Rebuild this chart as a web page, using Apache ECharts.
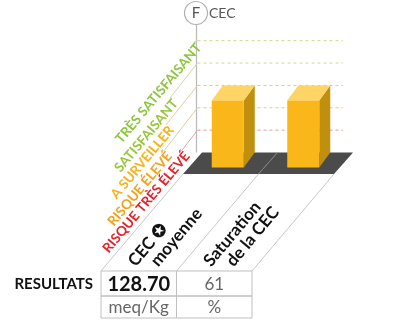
<!DOCTYPE html>
<html><head><meta charset="utf-8">
<script src="https://cdn.jsdelivr.net/npm/echarts@6/dist/echarts.min.js"></script>
<style>html,body{margin:0;padding:0;background:#fff}#c{width:410px;height:327px}</style>
</head><body><div id="c"></div>
<script>
// ---------- data ----------
const titleLetter = 'F';
const titleText = 'CEC';
const rowLabel = 'RESULTATS';
const categories = ['CEC ✪ moyenne', 'Saturation de la CEC'];
const categoryLines = [['CEC ✪', 'moyenne'], ['Saturation', 'de la CEC']];
const resultValues = ['128.70', '61'];
const resultUnits = ['meq/Kg', '%'];
const barLevels = [3, 3];
const levelNames = ['RISQUE TRÈS ÉLEVÉ', 'RISQUE ÉLEVÉ', 'A SURVEILLER', 'SATISFAISANT', 'TRÈS SATISFAISANT'];
const levelValues = [1, 2, 3, 4, 5];

// ---------- styles / layout ----------
const FONT = 'Lato, "Open Sans", sans-serif';
const levelColors = ['#e3232b', '#f4a21c', '#f7b21d', '#99c53c', '#8dc63f'];
const gridColors = ['#e79b9b', '#f1c877', '#f5c65c', '#c9dc8c', '#c9dc8c'];
const leaderColors = ['#eaa6a6', '#e2cca3', '#e2cca3', '#d2d7a8', '#d2d7a8'];
const labelOffsets = [[-15.8, 20.5], [-33.5, 43], [-31.5, 39.5], [-27.5, 35], [-4, 1.5]];
const ROT = 50 * Math.PI / 180;
const FLOOR_D = [-19, 21.5];
const GUIDE_D = [-82, 97];
const BAR_D = [-11, 15];
const BAR_BACK = [-17, 15];
const ROW_H = [25, 22];
const COL_LABEL_X = [37, 22.5];

function floorItem(params, api) {
  const i = api.value(0);
  const n = categories.length;
  const c = api.coord([i, 0]);
  const bw = api.size([1, 0])[0];
  const L = c[0] - bw / 2, R = c[0] + bw / 2, y0 = c[1];
  const fl = [L + FLOOR_D[0], y0 + FLOOR_D[1]];
  const fr = [R + FLOOR_D[0], y0 + FLOOR_D[1]];
  const tl = [fl[0] + GUIDE_D[0], fl[1] + GUIDE_D[1]];
  const tr = [fr[0] + GUIDE_D[0], fr[1] + GUIDE_D[1]];
  const cw = tr[0] - tl[0];
  const ch = [];
  ch.push({type: 'polygon', shape: {points: [[L, y0], [R, y0], fr, fl]}, style: {fill: '#4b4b4b'}});
  if (i > 0) ch.push({type: 'line', shape: {x1: L, y1: y0, x2: fl[0], y2: fl[1]}, style: {stroke: '#828282', lineWidth: 1}});
  ch.push({type: 'line', shape: {x1: fl[0], y1: fl[1], x2: tl[0], y2: tl[1]}, style: {stroke: '#c9c9c9', lineWidth: 1}});
  if (i === n - 1) ch.push({type: 'line', shape: {x1: fr[0], y1: fr[1], x2: tr[0], y2: tr[1]}, style: {stroke: '#c9c9c9', lineWidth: 1}});
  if (i === 0) {
    const top = api.coord([0, 6]);
    ch.push({type: 'line', shape: {x1: L - 5.5, y1: top[1], x2: L - 5.5, y2: y0}, style: {stroke: '#b8b8b8', lineWidth: 1.2}});
    ch.push({type: 'text', x: tl[0] - 8, y: tl[1] + ROW_H[0] / 2 + 1, style: {text: rowLabel, font: 'bold 15px ' + FONT, fill: '#111', align: 'right', verticalAlign: 'middle'}});
  }
  ch.push({type: 'rect', shape: {x: tl[0], y: tl[1], width: cw, height: ROW_H[0]}, style: {fill: 'none', stroke: '#c0c0c0', lineWidth: 1}});
  ch.push({type: 'rect', shape: {x: tl[0], y: tl[1] + ROW_H[0], width: cw, height: ROW_H[1]}, style: {fill: 'none', stroke: '#c0c0c0', lineWidth: 1}});
  ch.push({type: 'text', x: tl[0] + cw / 2, y: tl[1] + ROW_H[0] / 2 + 1, style: {text: resultValues[i], font: (i === 0 ? 'bold 20px ' : '17px ') + FONT, fill: i === 0 ? '#111' : '#666', align: 'center', verticalAlign: 'middle'}});
  ch.push({type: 'text', x: tl[0] + cw / 2, y: tl[1] + ROW_H[0] + ROW_H[1] / 2 + 1, style: {text: resultUnits[i], font: '17px ' + FONT, fill: '#666', align: 'center', verticalAlign: 'middle'}});
  categoryLines[i].forEach(function (t, k) {
    ch.push({type: 'text', x: tl[0] + COL_LABEL_X[0] + COL_LABEL_X[1] * k, y: tl[1] - 1.5, rotation: ROT, style: {text: t, font: 'bold 17px ' + FONT, fill: '#111', align: 'left', verticalAlign: 'bottom'}});
  });
  return {type: 'group', children: ch};
}

function levelItem(params, api) {
  const idx = params.dataIndex;
  const v = api.value(1);
  const c = api.coord([0, v]);
  const bw = api.size([1, 0])[0];
  const gl = c[0] - bw / 2, y = c[1];
  const x0 = gl - 4.5;
  const xe = gl + categories.length * bw - 10;
  const E = [x0 + labelOffsets[idx][0], y + labelOffsets[idx][1]];
  return {type: 'group', children: [
    {type: 'line', shape: {x1: x0, y1: y, x2: xe, y2: y}, style: {stroke: gridColors[idx], lineWidth: 1, lineDash: [3, 3]}},
    {type: 'line', shape: {x1: x0, y1: y, x2: E[0], y2: E[1]}, style: {stroke: leaderColors[idx], lineWidth: 1}},
    {type: 'text', x: E[0], y: E[1] - 1.5, rotation: ROT, style: {text: levelNames[idx], font: 'bold 13.5px ' + FONT, fill: levelColors[idx], align: 'right', verticalAlign: 'top'}}
  ]};
}

function barItem(params, api) {
  const i = api.value(0), v = api.value(1);
  const c0 = api.coord([i, 0]), ct = api.coord([i, v]);
  const bl = c0[0] + BAR_BACK[0], br = c0[0] + BAR_BACK[1];
  const y0 = c0[1], yt = ct[1];
  const dx = BAR_D[0], dy = BAR_D[1];
  return {type: 'group', children: [
    {type: 'polygon', shape: {points: [[br, yt], [br, y0], [br + dx, y0 + dy], [br + dx, yt + dy]]}, style: {fill: '#c18f0e'}},
    {type: 'polygon', shape: {points: [[bl, yt], [br, yt], [br + dx, yt + dy], [bl + dx, yt + dy]]}, style: {fill: '#fdd465'}},
    {type: 'rect', shape: {x: bl + dx, y: yt + dy, width: br - bl, height: y0 - yt}, style: {fill: '#fab71a'}}
  ]};
}

const chart = echarts.init(document.getElementById('c'), null, {renderer: 'canvas', width: 410, height: 327});
chart.setOption({
  animation: false,
  backgroundColor: '#fff',
  grid: {left: 202, right: 57, top: 18.3, bottom: 174.5},
  xAxis: {type: 'category', data: categories, show: false},
  yAxis: {type: 'value', min: 0, max: 6, show: false},
  series: [
    {type: 'custom', name: 'floor', renderItem: floorItem, data: categories.map(function (c, i) { return [i, 0]; }), silent: true},
    {type: 'custom', name: 'levels', renderItem: levelItem, data: levelValues.map(function (v) { return [0, v]; }), silent: true},
    {type: 'custom', name: 'bars', renderItem: barItem, data: barLevels.map(function (v, i) { return [i, v]; }), silent: true}
  ],
  graphic: [
    {type: 'circle', z: 100, shape: {cx: 196, cy: 13, r: 11.5}, style: {fill: '#fff', stroke: '#b0b0b0', lineWidth: 1.2}},
    {type: 'text', z: 101, x: 196, y: 13.5, style: {text: titleLetter, font: '15px ' + FONT, fill: '#555', align: 'center', verticalAlign: 'middle'}},
    {type: 'text', z: 101, x: 209, y: 13.5, style: {text: titleText, font: '14px ' + FONT, fill: '#555', align: 'left', verticalAlign: 'middle'}}
  ]
});
</script>
</body></html>
